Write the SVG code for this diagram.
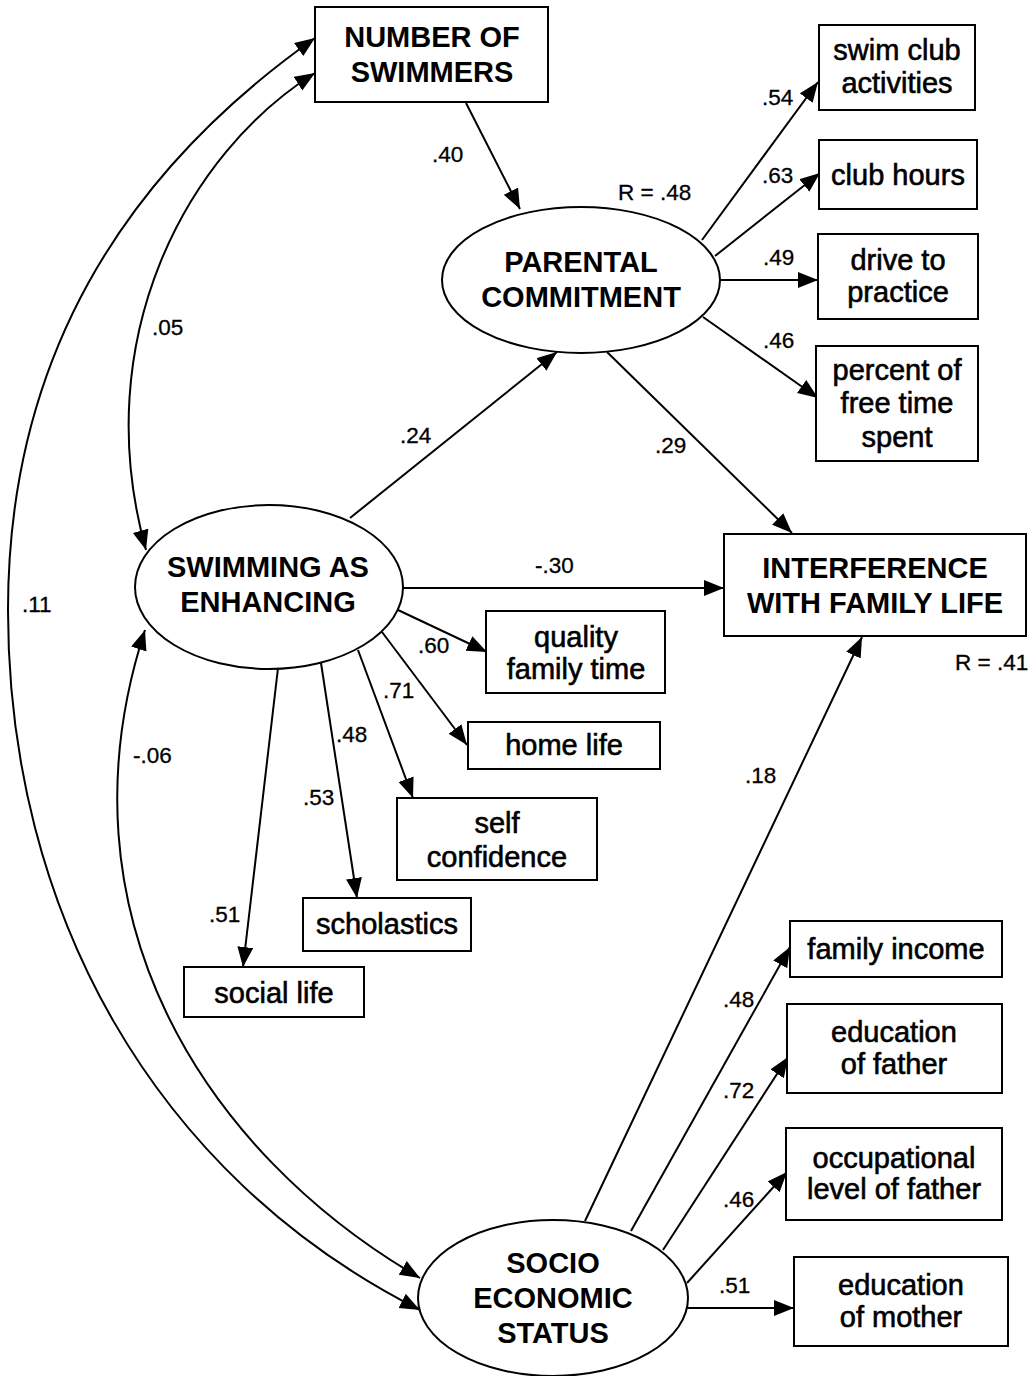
<svg xmlns="http://www.w3.org/2000/svg" width="1036" height="1376" viewBox="0 0 1036 1376">
<style>
.box{fill:#fff;stroke:#000;stroke-width:2}
.ell{fill:#fff;stroke:#000;stroke-width:2}
.hd{font-family:"Liberation Sans",Arial,sans-serif;font-weight:bold;font-size:29px;text-anchor:middle;fill:#000}
.lb{font-family:"Liberation Sans",Arial,sans-serif;font-size:29px;text-anchor:middle;fill:#000;stroke:#000;stroke-width:0.6}
.num{font-family:"Liberation Sans",Arial,sans-serif;font-size:22.5px;fill:#000;stroke:#000;stroke-width:0.3}
.c{fill:none;stroke:#000;stroke-width:2}
.a{marker-end:url(#ah)}
.b{marker-start:url(#ah);marker-end:url(#ah)}
</style>
<defs>
<marker id="ah" markerUnits="userSpaceOnUse" markerWidth="22" markerHeight="18" refX="20" refY="8" orient="auto-start-reverse" viewBox="0 0 22 18">
<path d="M0,0 L20,8 L0,16 z" fill="#000"/>
</marker>
</defs>
<rect width="1036" height="1376" fill="#fff"/>
<g id="connectors">
<path class="c b" d="M315,38 C151,154 8,330 8,610 C8,910 153,1175 420,1310"/>
<path class="c b" d="M315,73 C187,153 87,339 146,550"/>
<path class="c b" d="M145,630 C52,915 205,1153 420,1278"/>
<line class="c a" x1="466" y1="103" x2="520" y2="209"/>
<line class="c a" x1="702" y1="240" x2="818" y2="82"/>
<line class="c a" x1="715" y1="256" x2="820" y2="173"/>
<line class="c a" x1="720" y1="280" x2="818" y2="280"/>
<line class="c a" x1="703" y1="317" x2="818" y2="398"/>
<line class="c a" x1="607" y1="352" x2="792" y2="533"/>
<line class="c a" x1="350" y1="518" x2="557" y2="352"/>
<line class="c a" x1="403" y1="588" x2="724" y2="588"/>
<line class="c a" x1="398" y1="610" x2="487" y2="652"/>
<line class="c a" x1="382" y1="632" x2="467" y2="745"/>
<line class="c a" x1="358" y1="650" x2="413" y2="798"/>
<line class="c a" x1="321" y1="663" x2="357" y2="898"/>
<line class="c a" x1="278" y1="668" x2="243" y2="967"/>
<line class="c a" x1="585" y1="1221" x2="862" y2="637"/>
<line class="c a" x1="631" y1="1231" x2="790" y2="947"/>
<line class="c a" x1="663" y1="1250" x2="788" y2="1057"/>
<line class="c a" x1="687" y1="1283" x2="787" y2="1172"/>
<line class="c a" x1="687" y1="1308" x2="794" y2="1308"/>
<text class="num" x="432" y="162">.40</text>
<text class="num" x="618" y="200">R = .48</text>
<text class="num" x="762" y="105">.54</text>
<text class="num" x="762" y="183">.63</text>
<text class="num" x="763" y="265">.49</text>
<text class="num" x="763" y="348">.46</text>
<text class="num" x="655" y="453">.29</text>
<text class="num" x="152" y="335">.05</text>
<text class="num" x="400" y="443">.24</text>
<text class="num" x="535" y="573">-.30</text>
<text class="num" x="22" y="612">.11</text>
<text class="num" x="955" y="670">R = .41</text>
<text class="num" x="418" y="653">.60</text>
<text class="num" x="383" y="698">.71</text>
<text class="num" x="336" y="742">.48</text>
<text class="num" x="303" y="805">.53</text>
<text class="num" x="209" y="922">.51</text>
<text class="num" x="133" y="763">-.06</text>
<text class="num" x="745" y="783">.18</text>
<text class="num" x="723" y="1007">.48</text>
<text class="num" x="723" y="1098">.72</text>
<text class="num" x="723" y="1207">.46</text>
<text class="num" x="719" y="1293">.51</text>
</g>
<g id="number-of-swimmers">
<rect class="box" x="315" y="7" width="233" height="95"/>
<text class="hd" x="432" y="47">NUMBER OF</text>
<text class="hd" x="432" y="82">SWIMMERS</text>
</g>
<g id="parental-commitment">
<ellipse class="ell" cx="581" cy="280" rx="139" ry="73"/>
<text class="hd" x="581" y="272">PARENTAL</text>
<text class="hd" x="581" y="307">COMMITMENT</text>
</g>
<g id="swim-club-activities">
<rect class="box" x="819" y="25" width="156" height="85"/>
<text class="lb" x="897" y="60">swim club</text>
<text class="lb" x="897" y="93">activities</text>
</g>
<g id="club-hours">
<rect class="box" x="819" y="140" width="158" height="69"/>
<text class="lb" x="898" y="185">club hours</text>
</g>
<g id="drive-to-practice">
<rect class="box" x="818" y="234" width="160" height="85"/>
<text class="lb" x="898" y="270">drive to</text>
<text class="lb" x="898" y="302">practice</text>
</g>
<g id="percent-free-time">
<rect class="box" x="816" y="346" width="162" height="115"/>
<text class="lb" x="897" y="380">percent of</text>
<text class="lb" x="897" y="413">free time</text>
<text class="lb" x="897" y="447">spent</text>
</g>
<g id="interference">
<rect class="box" x="724" y="534" width="302" height="102"/>
<text class="hd" x="875" y="578">INTERFERENCE</text>
<text class="hd" x="875" y="613">WITH FAMILY LIFE</text>
</g>
<g id="swimming-as-enhancing">
<ellipse class="ell" cx="269" cy="587" rx="134" ry="82"/>
<text class="hd" x="268" y="577">SWIMMING AS</text>
<text class="hd" x="268" y="612">ENHANCING</text>
</g>
<g id="quality-family-time">
<rect class="box" x="486" y="611" width="179" height="82"/>
<text class="lb" x="576" y="647">quality</text>
<text class="lb" x="576" y="679">family time</text>
</g>
<g id="home-life">
<rect class="box" x="468" y="722" width="192" height="47"/>
<text class="lb" x="564" y="755">home life</text>
</g>
<g id="self-confidence">
<rect class="box" x="397" y="798" width="200" height="82"/>
<text class="lb" x="497" y="833">self</text>
<text class="lb" x="497" y="867">confidence</text>
</g>
<g id="scholastics">
<rect class="box" x="303" y="898" width="168" height="53"/>
<text class="lb" x="387" y="934">scholastics</text>
</g>
<g id="social-life">
<rect class="box" x="184" y="967" width="180" height="50"/>
<text class="lb" x="274" y="1003">social life</text>
</g>
<g id="socio-economic-status">
<ellipse class="ell" cx="553" cy="1298" rx="135" ry="78"/>
<text class="hd" x="553" y="1273">SOCIO</text>
<text class="hd" x="553" y="1308">ECONOMIC</text>
<text class="hd" x="553" y="1343">STATUS</text>
</g>
<g id="family-income">
<rect class="box" x="790" y="921" width="212" height="56"/>
<text class="lb" x="896" y="959">family income</text>
</g>
<g id="education-of-father">
<rect class="box" x="787" y="1004" width="215" height="89"/>
<text class="lb" x="894" y="1042">education</text>
<text class="lb" x="894" y="1074">of father</text>
</g>
<g id="occupational-level">
<rect class="box" x="786" y="1128" width="216" height="92"/>
<text class="lb" x="894" y="1168">occupational</text>
<text class="lb" x="894" y="1199">level of father</text>
</g>
<g id="education-of-mother">
<rect class="box" x="794" y="1257" width="214" height="89"/>
<text class="lb" x="901" y="1295">education</text>
<text class="lb" x="901" y="1327">of mother</text>
</g>
</svg>
